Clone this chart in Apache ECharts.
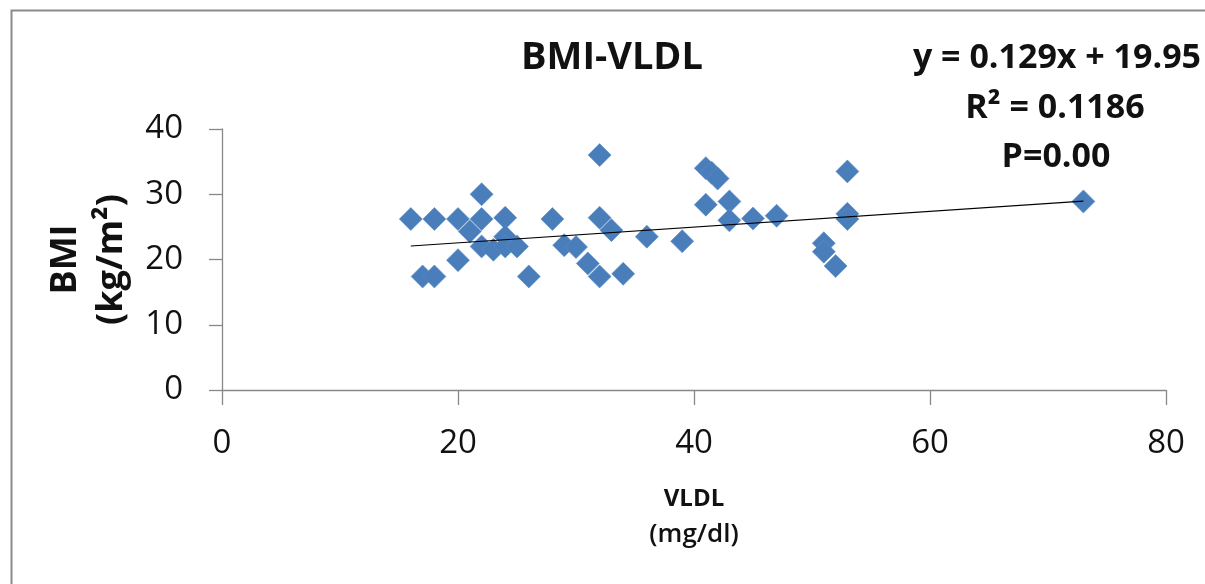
<!DOCTYPE html>
<html>
<head>
<meta charset="utf-8">
<script src="https://cdn.jsdelivr.net/npm/echarts@6/dist/echarts.min.js"></script>
<style>
html,body{margin:0;padding:0;background:#fff;}
#chart{width:1205px;height:584px;}
</style>
</head>
<body>
<div id="chart"></div>
<script>
// VLDL (mg/dl) values
const vldl = [16, 17, 18, 18, 20, 20, 21, 22, 22, 22, 23, 24, 24, 24, 25, 26, 28, 29, 30, 31, 32, 32, 32, 33, 34, 36, 39, 41, 41.5, 42, 41, 43, 43, 45, 47, 51, 51, 52, 53, 53, 53, 73];
// BMI (kg/m²) values
const bmi  = [26.2, 17.4, 26.2, 17.4, 26.2, 19.9, 24.3, 30.0, 26.2, 22.0, 21.5, 26.4, 23.5, 22.0, 22.0, 17.4, 26.2, 22.2, 21.9, 19.4, 36.0, 26.4, 17.4, 24.5, 17.8, 23.5, 22.8, 34.0, 33.3, 32.4, 28.4, 28.9, 26.0, 26.3, 26.7, 22.5, 21.2, 19.0, 33.5, 27.0, 26.2, 28.9];
// Linear trendline end points
const trendX = [16, 73];
const trendY = [22.07, 28.96];
const xTicks = [0, 20, 40, 60, 80];
const yTicks = [0, 10, 20, 30, 40];
const titleText = 'BMI-VLDL';
const eqLines = ['y = 0.129x + 19.95', 'R² = 0.1186', 'P=0.00'];

const FONT = '"Open Sans", "Noto Sans", sans-serif';
const chart = echarts.init(document.getElementById('chart'), null, {renderer: 'canvas'});
const pts = vldl.map((v, i) => [v, bmi[i]]);
const trend = trendX.map((v, i) => [v, trendY[i]]);

chart.setOption({
  backgroundColor: '#fff',
  animation: false,
  grid: {left: 222, right: 39, top: 129, bottom: 194, containLabel: false},
  xAxis: {
    type: 'value', min: xTicks[0], max: xTicks[xTicks.length - 1], interval: 20,
    splitLine: {show: false},
    axisLine: {show: true, onZero: false, lineStyle: {color: '#888', width: 1.3}},
    axisTick: {show: true, inside: false, length: 15, lineStyle: {color: '#888', width: 1.3}},
    axisLabel: {show: true, margin: 37, color: '#111', fontFamily: FONT, fontSize: 33, lineHeight: 34, showMaxLabel: true, showMinLabel: true},
    name: '{a|VLDL}\n{b|(mg/dl)}',
    nameLocation: 'middle', nameGap: 91,
    nameTextStyle: {
      rich: {
        a: {fontFamily: FONT, fontSize: 24, fontWeight: 'bold', color: '#111', lineHeight: 36},
        b: {fontFamily: FONT, fontSize: 26, fontWeight: 600, color: '#111', lineHeight: 36}
      }
    }
  },
  yAxis: {
    type: 'value', min: yTicks[0], max: yTicks[yTicks.length - 1], interval: 10,
    splitLine: {show: false},
    axisLine: {show: true, onZero: false, lineStyle: {color: '#888', width: 1.3}},
    axisTick: {show: true, inside: false, length: 13, lineStyle: {color: '#888', width: 1.3}},
    axisLabel: {show: true, margin: 39, color: '#111', fontFamily: FONT, fontSize: 33},
    name: 'BMI\n(kg/m²)',
    nameLocation: 'middle', nameGap: 86,
    nameTextStyle: {fontFamily: FONT, fontSize: 36, fontWeight: 'bold', color: '#111', lineHeight: 46}
  },
  series: [
    {
      type: 'scatter', data: pts, symbol: 'diamond', symbolSize: 23,
      itemStyle: {color: '#4A7EBB', opacity: 1, borderColor: '#5b8dc7', borderWidth: 0.6},
      z: 3
    },
    {
      type: 'line', data: trend, symbol: 'none', silent: true,
      lineStyle: {color: '#000', width: 1.2}, z: 4
    }
  ],
  graphic: [
    {type: 'rect', left: 9, top: 8, shape: {x: 0, y: 0, width: 1300, height: 700},
     style: {fill: 'none', stroke: '#8a8a8a', lineWidth: 2}, z: 1, silent: true},
    {type: 'text', x: 612, y: 58, style: {text: titleText, fontFamily: FONT, fontSize: 38, fontWeight: 'bold', fill: '#111', textAlign: 'center', textVerticalAlign: 'middle'}},
    {type: 'text', x: 1057, y: 58, style: {text: eqLines[0], fontFamily: FONT, fontSize: 34, fontWeight: 'bold', fill: '#111', textAlign: 'center', textVerticalAlign: 'middle'}},
    {type: 'text', x: 1055, y: 108, style: {text: eqLines[1], fontFamily: FONT, fontSize: 34, fontWeight: 'bold', fill: '#111', textAlign: 'center', textVerticalAlign: 'middle'}},
    {type: 'text', x: 1056, y: 157, style: {text: eqLines[2], fontFamily: FONT, fontSize: 34, fontWeight: 'bold', fill: '#111', textAlign: 'center', textVerticalAlign: 'middle'}}
  ]
});
</script>
</body>
</html>
